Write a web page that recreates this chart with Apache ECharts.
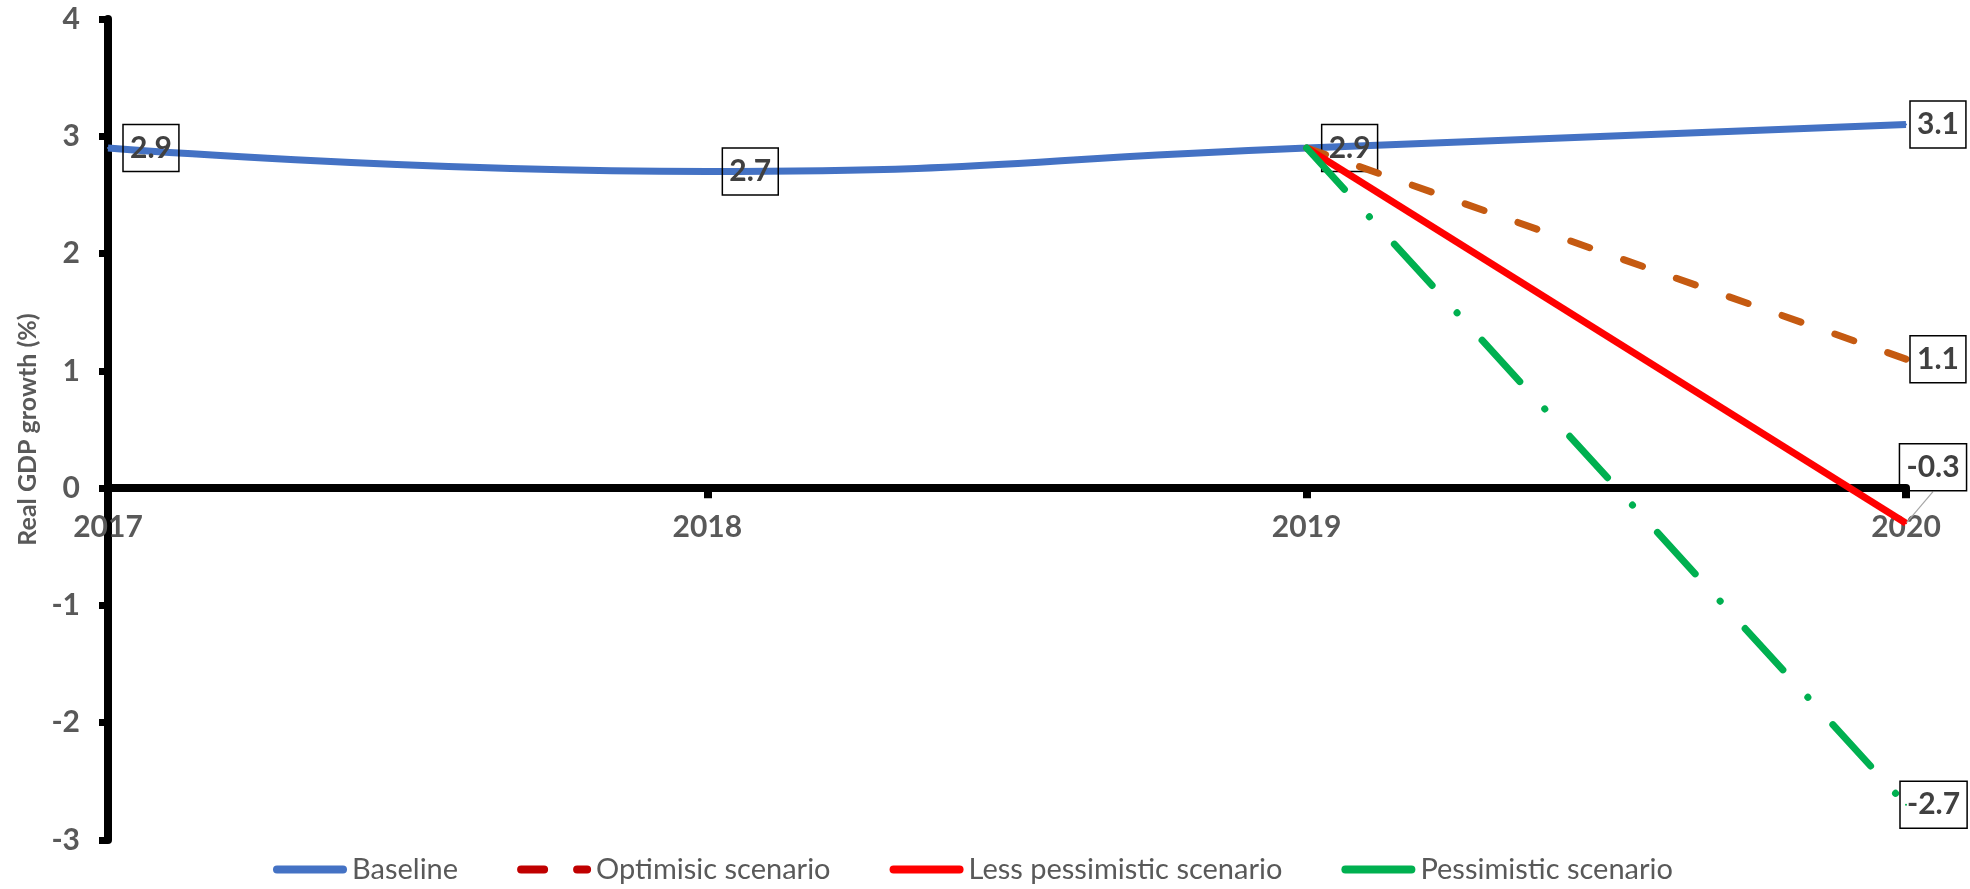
<!DOCTYPE html>
<html>
<head>
<meta charset="utf-8">
<script src="https://cdn.jsdelivr.net/npm/echarts@6/dist/echarts.min.js"></script>
<style>
html,body{margin:0;padding:0;background:#fff;}
#chart{width:1970px;height:889px;}
</style>
</head>
<body>
<div id="chart"></div>
<script>
const categories = ['2017', '2018', '2019', '2020'];
const baseline = [2.9, 2.7, 2.9, 3.1];
const optimistic = [null, null, 2.9, 1.1];
const lessPessimistic = [null, null, 2.9, -0.3];
const pessimistic = [null, null, 2.9, -2.7];
const seriesNames = ['Baseline', 'Optimisic scenario', 'Less pessimistic scenario', 'Pessimistic scenario'];
const yMin = -3, yMax = 4, yStep = 1;

const FONT = 'Lato';
const W = 1970, H = 889;
const GRID = { left: 108, right: 64, top: 19, bottom: 49 };
const gridH = H - GRID.top - GRID.bottom;
// move the category axis up to the zero line
const xAxisOffset = -((0 - yMin) / (yMax - yMin)) * gridH;

const labelBase = {
  show: true,
  position: 'right',
  distance: 14,
  fontFamily: FONT,
  fontWeight: 'bold',
  fontSize: 30,
  lineHeight: 36,
  color: '#404040',
  borderColor: '#000',
  borderWidth: 1.5,
  padding: [6, 7, 5, 7],
  formatter: p => Number(p.value).toFixed(1)
};

function makeData(values, labelOpts) {
  return values.map((v, i) => {
    if (v === null) return '-';
    const lo = labelOpts[i];
    return { value: v, label: lo ? Object.assign({}, labelBase, lo) : { show: false } };
  });
}

const roundBar = 'path://M4,0H70A4,4 0 0 1 70,8H4A4,4 0 0 1 4,0Z';
const dashDot = 'path://M4,0H27A4,4 0 0 1 27,8H4A4,4 0 0 1 4,0Z M60,0H70A4,4 0 0 1 70,8H60A4,4 0 0 1 60,0Z';

const chart = echarts.init(document.getElementById('chart'));
chart.setOption({
  animation: false,
  backgroundColor: '#fff',
  grid: Object.assign({ containLabel: false }, GRID),
  legend: {
    left: 273, top: 855, padding: 0, itemGap: 59, itemWidth: 74, itemHeight: 8,
    textStyle: { fontFamily: FONT, fontSize: 29, color: '#595959' },
    data: [
      { name: seriesNames[0], icon: roundBar, itemStyle: { color: '#4472C4', borderWidth: 0 } },
      { name: seriesNames[1], icon: dashDot, itemStyle: { color: '#C00000', borderWidth: 0 } },
      { name: seriesNames[2], icon: roundBar, itemStyle: { color: '#FF0000', borderWidth: 0 } },
      { name: seriesNames[3], icon: roundBar, itemStyle: { color: '#00B050', borderWidth: 0 } }
    ]
  },
  xAxis: {
    type: 'category',
    data: categories,
    boundaryGap: false,
    position: 'bottom',
    offset: xAxisOffset,
    axisLine: { onZero: false, lineStyle: { color: '#000', width: 8 } },
    axisTick: { show: true, length: 10, lineStyle: { color: '#000', width: 8 } },
    axisLabel: { margin: 24, fontFamily: FONT, fontWeight: 'bold', fontSize: 30, color: '#595959' },
    splitLine: { show: false }
  },
  yAxis: {
    type: 'value',
    min: yMin, max: yMax, interval: yStep,
    name: 'Real GDP growth (%)',
    nameLocation: 'middle',
    nameGap: 68,
    nameTextStyle: { fontFamily: FONT, fontWeight: 'bold', fontSize: 25, color: '#595959' },
    axisLine: { show: true, lineStyle: { color: '#000', width: 8 } },
    axisTick: { show: true, length: 9, lineStyle: { color: '#000', width: 7 } },
    axisLabel: { margin: 28, fontFamily: FONT, fontWeight: 'bold', fontSize: 30, color: '#595959' },
    splitLine: { show: false }
  },
  series: [
    {
      name: seriesNames[0], type: 'line', smooth: true,
      symbol: 'circle', symbolSize: 2,
      itemStyle: { color: '#4472C4' },
      lineStyle: { color: '#4472C4', width: 7 },
      data: makeData(baseline, { 0: {}, 1: {}, 2: {}, 3: { distance: 3 } }),
      z: 2
    },
    {
      name: seriesNames[1], type: 'line',
      symbol: 'circle', symbolSize: 2,
      itemStyle: { color: '#C55A11' },
      lineStyle: { color: '#C55A11', width: 7, type: [20, 36], cap: 'round' },
      data: makeData(optimistic, { 3: { distance: 3 } }),
      z: 3
    },
    {
      name: seriesNames[2], type: 'line',
      symbol: 'circle', symbolSize: 2,
      itemStyle: { color: '#FF0000' },
      lineStyle: { color: '#FF0000', width: 7 },
      data: makeData(lessPessimistic, { 3: { position: 'inside' } }),
      labelLayout: { dx: 27, dy: -56 },
      labelLine: { show: true, lineStyle: { color: '#A6A6A6', width: 1.2 } },
      z: 4
    },
    {
      name: seriesNames[3], type: 'line',
      symbol: 'circle', symbolSize: 2,
      itemStyle: { color: '#00B050' },
      lineStyle: { color: '#00B050', width: 7, type: [56, 37, 0.1, 37], cap: 'round' },
      data: makeData(pessimistic, { 3: { distance: -7 } }),
      z: 5
    }
  ]
});
</script>
</body>
</html>
